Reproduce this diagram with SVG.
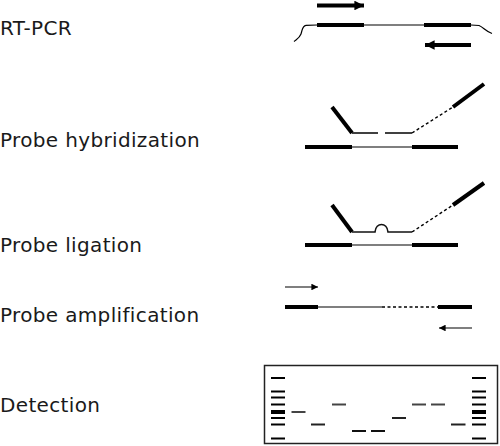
<svg xmlns="http://www.w3.org/2000/svg" width="500" height="446" viewBox="0 0 500 446">
<style>
.lbl{font-family:"DejaVu Sans","Liberation Sans",sans-serif;font-size:20px;letter-spacing:0.35px;fill:#1a1a1a}
.thick{stroke:#000;stroke-width:4;fill:none}
.thin{stroke:#000;stroke-width:1.2;fill:none}
.med{stroke:#111;stroke-width:1.6;fill:none}
.dash{stroke:#000;stroke-width:1.4;stroke-dasharray:3,2.5;fill:none}
.lad{stroke:#000;stroke-width:2}
.band{stroke:#444;stroke-width:2}
</style>
<defs>
<marker id="ah" viewBox="0 0 10 10" refX="10" refY="5" markerWidth="2.8" markerHeight="2.4" orient="auto" markerUnits="strokeWidth"><path d="M0,0 L10,5 L0,10 Z" fill="#000"/></marker>
<marker id="ahs" viewBox="0 0 10 10" refX="10" refY="5" markerWidth="6" markerHeight="5.5" orient="auto" markerUnits="strokeWidth"><path d="M0,0 L10,5 L0,10 Z" fill="#000"/></marker>
</defs>
<g id="labels">
<text class="lbl" x="0" y="35">RT-PCR</text>
<text class="lbl" x="0" y="147">Probe hybridization</text>
<text class="lbl" x="0" y="252">Probe ligation</text>
<text class="lbl" x="0" y="322">Probe amplification</text>
<text class="lbl" x="0" y="412">Detection</text>
</g>
<g id="rtpcr">
<line class="thick" x1="317" y1="5.5" x2="364" y2="5.5" marker-end="url(#ah)"/>
<line class="thick" x1="317" y1="25" x2="364" y2="25"/>
<line class="thin" x1="364" y1="25" x2="424" y2="25"/>
<line class="thick" x1="424" y1="25" x2="471" y2="25"/>
<path class="thin" d="M317,25 L306,25.3 C302,25.8 302.5,30 301,34 C299.5,38 297,39 294,41.5"/>
<path class="thin" d="M471,25 L479,25.5 C483,27 486,31.5 492,33.5"/>
<line class="thick" x1="471" y1="45" x2="425" y2="45" marker-end="url(#ah)"/>
</g>
<g id="hybridization">
<line class="thick" x1="305" y1="147" x2="352" y2="147"/>
<line class="thin" x1="352" y1="147" x2="412" y2="147"/>
<line class="thick" x1="412" y1="147" x2="458" y2="147"/>
<line class="thick" x1="332" y1="107" x2="352" y2="133" stroke-width="3"/>
<line class="med" x1="352" y1="133" x2="378" y2="133"/>
<line class="med" x1="385" y1="133" x2="412" y2="133"/>
<line class="dash" x1="412" y1="133" x2="453" y2="107"/>
<line class="thick" x1="453" y1="107" x2="484" y2="84" stroke-width="3.5"/>
</g>
<g id="ligation">
<line class="thick" x1="305" y1="245" x2="352" y2="245"/>
<line class="thin" x1="352" y1="245" x2="412" y2="245"/>
<line class="thick" x1="412" y1="245" x2="458" y2="245"/>
<line class="thick" x1="332" y1="205" x2="352" y2="232" stroke-width="3"/>
<path class="med" d="M352,232 L375,232 C376,222 387,222 388,232 L412,232"/>
<line class="dash" x1="412" y1="232" x2="453" y2="205"/>
<line class="thick" x1="453" y1="205" x2="484" y2="183" stroke-width="3.5"/>
</g>
<g id="amplification">
<line class="thin" x1="285" y1="287" x2="318" y2="287" marker-end="url(#ahs)"/>
<line class="thick" x1="285" y1="307" x2="318" y2="307" stroke-width="3"/>
<line class="thin" x1="318" y1="307" x2="382" y2="307"/>
<line class="dash" x1="382" y1="307" x2="438" y2="307"/>
<line class="thick" x1="438" y1="307" x2="472" y2="307" stroke-width="3"/>
<line class="thin" x1="472" y1="328" x2="439" y2="328" marker-end="url(#ahs)"/>
</g>
<g id="detection">
<rect x="264.5" y="365.5" width="233" height="78" fill="none" stroke="#222" stroke-width="1.5"/>
<g class="lad">
<line x1="271" y1="378" x2="285" y2="378"/>
<line x1="271" y1="391.5" x2="285" y2="391.5"/>
<line x1="271" y1="397.5" x2="285" y2="397.5"/>
<line x1="271" y1="404.5" x2="285" y2="404.5"/>
<line x1="271" y1="412" x2="285" y2="412" stroke-width="4"/>
<line x1="271" y1="418" x2="285" y2="418"/>
<line x1="271" y1="424.5" x2="285" y2="424.5"/>
<line x1="271" y1="438.5" x2="285" y2="438.5"/>
<line x1="472" y1="378" x2="486" y2="378"/>
<line x1="472" y1="391.5" x2="486" y2="391.5"/>
<line x1="472" y1="397.5" x2="486" y2="397.5"/>
<line x1="472" y1="404.5" x2="486" y2="404.5"/>
<line x1="472" y1="412" x2="486" y2="412" stroke-width="4"/>
<line x1="472" y1="418" x2="486" y2="418"/>
<line x1="472" y1="424.5" x2="486" y2="424.5"/>
<line x1="472" y1="438.5" x2="486" y2="438.5"/>
</g>
<g class="band">
<line x1="291.5" y1="412" x2="305.5" y2="412"/>
<line x1="311" y1="424.5" x2="325" y2="424.5" stroke="#222"/>
<line x1="332" y1="404.5" x2="346" y2="404.5"/>
<line x1="352" y1="431" x2="366" y2="431" stroke="#111"/>
<line x1="371" y1="431" x2="385" y2="431" stroke="#111"/>
<line x1="392" y1="418" x2="406" y2="418" stroke="#222"/>
<line x1="412" y1="404.5" x2="426" y2="404.5"/>
<line x1="431" y1="404.5" x2="445" y2="404.5"/>
<line x1="451" y1="424.5" x2="465.5" y2="424.5" stroke="#222"/>
</g>
</g>
</svg>
